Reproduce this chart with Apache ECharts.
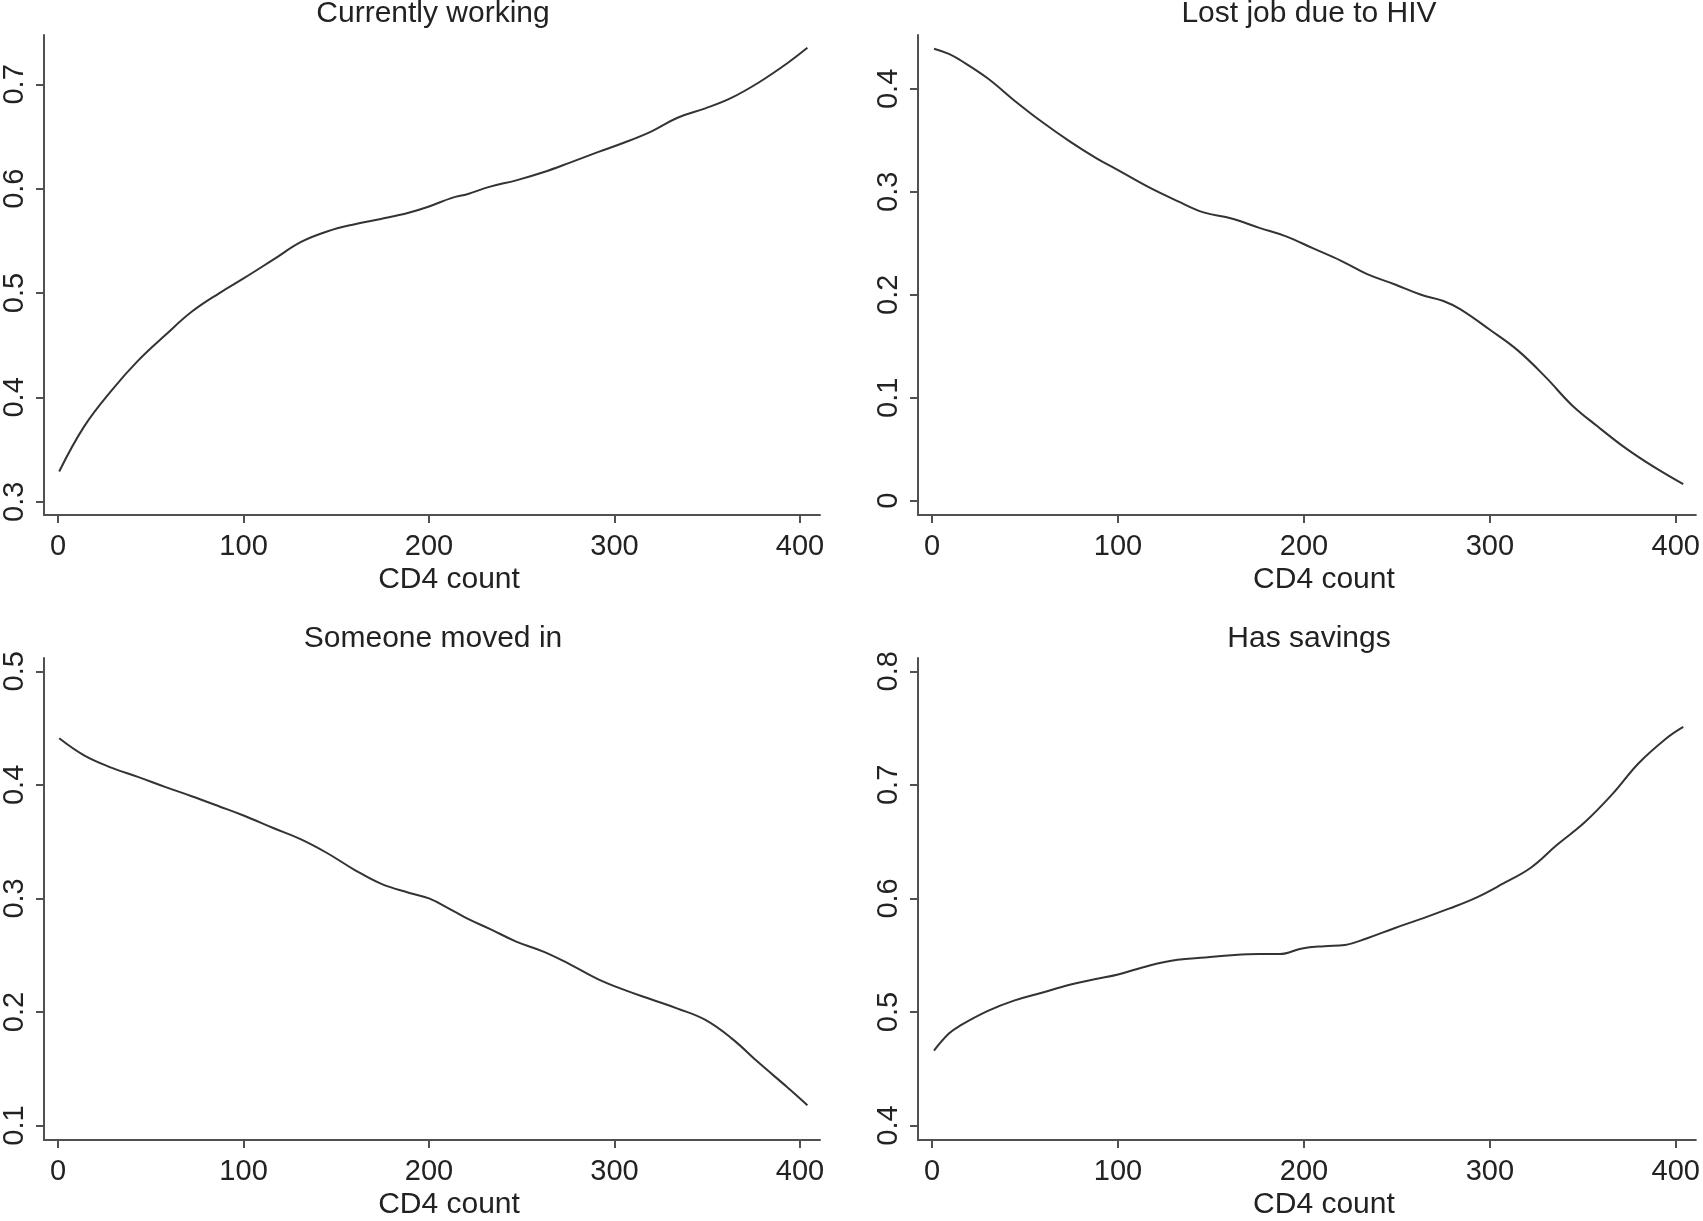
<!DOCTYPE html>
<html>
<head>
<meta charset="utf-8">
<script src="https://cdn.jsdelivr.net/npm/echarts@6/dist/echarts.min.js"></script>
<style>
html,body{margin:0;padding:0;background:#fff;}
#chart{width:1703px;height:1221px;}
</style>
</head>
<body>
<div id="chart"></div>
<script>
// ---- Data ----
const panelTitles = ["Currently working", "Lost job due to HIV", "Someone moved in", "Has savings"];
const xAxisName = "CD4 count";
const xTicks = [0, 100, 200, 300, 400];

const workingX = [0.6,14,29,43,58,72,87,100,116,131,145,160,174,189,200,212,221,233,247,262,276,291,305,320,334,349,363,378,393,404];
const workingY = [0.329,0.372,0.407,0.435,0.460,0.482,0.500,0.514,0.532,0.549,0.559,0.566,0.571,0.577,0.583,0.591,0.595,0.602,0.608,0.616,0.625,0.635,0.644,0.655,0.668,0.677,0.687,0.702,0.720,0.735];
const workingTicks = [0.3, 0.4, 0.5, 0.6, 0.7];

const lostJobX = [1,9,15,30,44,59,74,88,100,117,132,146,161,176,190,205,220,234,249,263,275,284,300,315,330,344,358,373,388,404];
const lostJobY = [0.439,0.434,0.428,0.410,0.389,0.368,0.349,0.333,0.321,0.304,0.291,0.280,0.274,0.265,0.257,0.245,0.233,0.220,0.210,0.200,0.194,0.186,0.166,0.146,0.120,0.093,0.072,0.051,0.033,0.016];
const lostJobTicks = [0, 0.1, 0.2, 0.3, 0.4];

const movedInX = [0.6,14,29,43,58,72,87,100,116,131,145,160,174,189,200,212,221,233,247,262,276,291,306,320,334,349,363,378,393,404];
const movedInY = [0.441,0.426,0.415,0.407,0.398,0.390,0.381,0.373,0.362,0.352,0.340,0.325,0.313,0.305,0.300,0.290,0.282,0.273,0.262,0.253,0.242,0.229,0.219,0.211,0.203,0.193,0.177,0.155,0.134,0.118];
const movedInTicks = [0.1, 0.2, 0.3, 0.4, 0.5];

const savingsX = [1,9,15,30,44,59,74,88,100,117,132,147,161,176,187,199,211,222,234,249,263,278,293,307,322,336,351,366,380,395,404];
const savingsY = [0.466,0.481,0.488,0.501,0.510,0.517,0.524,0.529,0.533,0.541,0.546,0.548,0.550,0.551,0.551,0.556,0.558,0.559,0.565,0.574,0.582,0.591,0.601,0.613,0.627,0.647,0.667,0.692,0.719,0.741,0.751];
const savingsTicks = [0.4, 0.5, 0.6, 0.7, 0.8];

// ---- Layout ----
const FONT = "Liberation Sans, Arial, Helvetica, sans-serif";
const TXT = "#222";
const AX = "#505050";
const LINE = "#333";

const grids = [
  {left: 40, top: 35, width: 780, height: 480},
  {left: 918, top: 35, width: 780, height: 480},
  {left: 40, top: 658, width: 780, height: 484},
  {left: 918, top: 658, width: 780, height: 484}
];
const yRanges = [[0.2873, 0.7473], [-0.0139, 0.4523], [0.0873, 0.5117], [0.3873, 0.8117]];
const xRange = [-7.6, 410.8];
const titleCenters = [[433, -1], [1309, -1], [433, 624], [1309, 624]];
const yTicksAll = [workingTicks, lostJobTicks, movedInTicks, savingsTicks];
const seriesX = [workingX, lostJobX, movedInX, savingsX];
const seriesY = [workingY, lostJobY, movedInY, savingsY];

function fmt(v){ return Math.abs(v) < 1e-9 ? "0" : v.toFixed(1); }

const option = {
  backgroundColor: "#fff",
  animation: false,
  title: panelTitles.map((t, i) => ({
    text: t, left: titleCenters[i][0], top: titleCenters[i][1], textAlign: "center", padding: 0,
    textStyle: {fontFamily: FONT, fontSize: 30, fontWeight: "normal", color: TXT}
  })),
  grid: grids,
  xAxis: grids.map((g, i) => ({
    type: "value", gridIndex: i, min: xRange[0], max: xRange[1],
    name: xAxisName, nameLocation: "middle", nameGap: 50,
    nameTextStyle: {fontFamily: FONT, fontSize: 30, color: TXT, padding: [0, 0, 0, 34]},
    axisLine: {onZero: false, lineStyle: {color: AX, width: 2}},
    axisTick: {customValues: xTicks, length: 8, lineStyle: {color: AX, width: 2}},
    axisLabel: {customValues: xTicks, margin: 17, fontFamily: FONT, fontSize: 29, color: TXT},
    splitLine: {show: false}
  })),
  yAxis: grids.map((g, i) => ({
    type: "value", gridIndex: i, min: yRanges[i][0], max: yRanges[i][1],
    axisLine: {show: true, onZero: false, lineStyle: {color: AX, width: 2}},
    axisTick: {show: true, customValues: yTicksAll[i], length: 8, lineStyle: {color: AX, width: 2}},
    axisLabel: {customValues: yTicksAll[i], rotate: 90, margin: 15, fontFamily: FONT, fontSize: 29, color: TXT, formatter: fmt},
    splitLine: {show: false}
  })),
  series: seriesX.map((xs, i) => ({
    type: "line", xAxisIndex: i, yAxisIndex: i, showSymbol: false, smooth: 0.4,
    lineStyle: {color: LINE, width: 2},
    data: xs.map((x, j) => [x, seriesY[i][j]])
  }))
};

const chart = echarts.init(document.getElementById("chart"), null, {renderer: "canvas"});
chart.setOption(option);
</script>
</body>
</html>
